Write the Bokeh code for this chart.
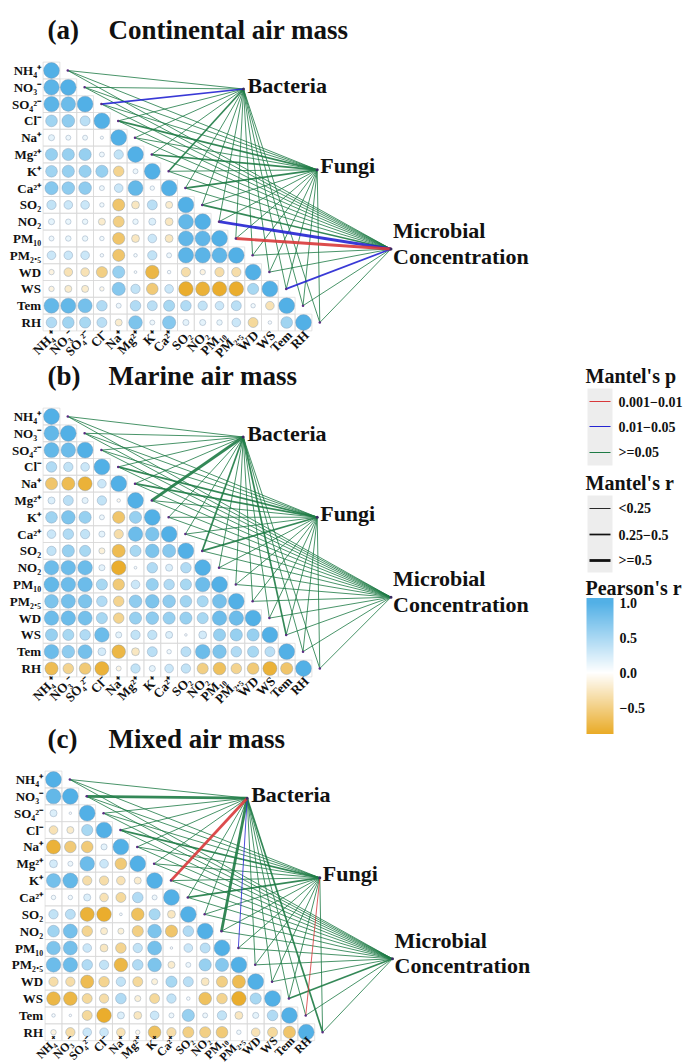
import numpy as np
from bokeh.plotting import figure
from bokeh.models import Range1d, ColumnDataSource
from bokeh.embed import file_html
from bokeh.resources import INLINE
from bokeh.core.properties import value

# ---------------- data ----------------
variables = ["NH₄⁺", "NO₃⁻", "SO₄²⁻", "Cl⁻", "Na⁺", "Mg²⁺", "K⁺", "Ca²⁺",
             "SO₂", "NO₂", "PM₁₀", "PM₂.₅", "WD", "WS", "Tem", "RH"]
targets = ["Bacteria", "Fungi", "Microbial Concentration"]
panel_letters = ["(a)", "(b)", "(c)"]
panel_titles = ["Continental air mass", "Marine air mass", "Mixed air mass"]

# lower-triangle Pearson's r (row i, columns 0..i-1); diagonal = 1
corr_a = [
    [],
    [0.95],
    [0.95, 0.85],
    [0.55, 0.65, 0.40],
    [0.15, 0.10, 0.10, 0.04],
    [0.60, 0.60, 0.60, 0.10, 0.35],
    [0.55, 0.60, 0.60, 0.60, -0.45, 0.10],
    [0.70, 0.65, 0.65, 0.10, 0.30, 0.90, 0.08],
    [0.35, 0.30, 0.30, 0.08, -0.60, -0.25, 0.40, -0.20],
    [0.15, 0.12, 0.12, -0.20, -0.50, 0.12, 0.20, -0.25, 0.90],
    [0.10, 0.12, 0.12, 0.08, -0.60, -0.25, 0.30, -0.25, 0.92, 0.92],
    [0.30, 0.30, 0.30, 0.05, -0.60, 0.05, 0.35, 0.10, 0.95, 0.95, 0.92],
    [-0.12, -0.30, -0.30, -0.50, 0.60, 0.03, -0.75, 0.05, -0.35, -0.12, -0.35, -0.35],
    [-0.12, -0.20, -0.20, -0.08, 0.70, 0.35, -0.55, 0.30, -0.85, -0.80, -0.85, -0.85, 0.50],
    [0.90, 0.90, 0.80, 0.45, 0.10, 0.45, 0.40, 0.50, 0.45, 0.35, 0.30, 0.40, 0.08, -0.30],
    [0.45, 0.55, 0.50, 0.40, -0.20, 0.75, 0.10, 0.70, 0.15, 0.15, 0.12, 0.30, -0.40, 0.05, 0.55],
]
corr_b = [
    [],
    [0.90],
    [0.90, 0.85],
    [0.45, 0.35, 0.30],
    [-0.60, -0.70, -0.80, 0.30],
    [0.20, 0.40, 0.15, 0.35, -0.05],
    [0.55, 0.75, 0.60, 0.10, -0.60, 0.60],
    [0.30, 0.45, 0.35, 0.15, -0.35, 0.85, 0.75],
    [0.35, 0.60, 0.50, -0.15, -0.70, 0.50, 0.75, 0.70],
    [0.85, 0.85, 0.85, 0.15, -0.85, 0.03, 0.45, 0.20, 0.45],
    [0.90, 0.85, 0.85, 0.50, -0.55, 0.30, 0.60, 0.45, 0.50, 0.85],
    [0.75, 0.80, 0.75, 0.45, -0.45, 0.65, 0.75, 0.65, 0.55, 0.50, 0.80],
    [0.85, 0.85, 0.80, 0.50, -0.45, 0.60, 0.65, 0.60, 0.60, 0.50, 0.85, 0.85],
    [0.60, 0.50, 0.45, 0.85, 0.15, 0.35, 0.35, 0.20, 0.02, 0.25, 0.60, 0.60, 0.60],
    [0.85, 0.65, 0.80, 0.25, -0.75, -0.25, 0.40, 0.08, 0.40, 0.85, 0.75, 0.45, 0.50, 0.40],
    [-0.70, -0.45, -0.55, -0.80, -0.10, 0.35, 0.15, 0.30, 0.35, -0.50, -0.65, -0.45, -0.55, -0.80, -0.60],
]
corr_c = [
    [],
    [0.90],
    [0.20, 0.02],
    [-0.30, -0.20, 0.50],
    [-0.80, -0.55, -0.55, 0.15],
    [0.25, 0.10, 0.85, 0.30, -0.55],
    [0.80, 0.90, -0.35, -0.35, -0.30, -0.20],
    [0.08, 0.08, 0.20, -0.30, -0.40, 0.45, 0.10],
    [0.35, 0.40, -0.80, -0.85, 0.03, -0.65, 0.50, -0.25],
    [0.55, 0.80, -0.45, -0.20, -0.15, -0.50, 0.75, -0.60, 0.45],
    [0.75, 0.80, 0.30, -0.25, -0.45, 0.35, 0.80, 0.02, 0.30, 0.40],
    [0.85, 0.85, 0.45, 0.35, -0.75, 0.45, 0.75, -0.20, 0.10, 0.60, 0.70],
    [-0.35, -0.35, -0.70, -0.45, 0.35, -0.40, -0.15, 0.50, 0.40, -0.25, -0.50, -0.70],
    [-0.75, -0.75, -0.40, -0.35, 0.45, -0.15, -0.40, 0.35, 0.05, -0.65, -0.45, -0.85, 0.50],
    [0.05, 0.02, -0.40, -0.85, 0.20, -0.25, 0.30, 0.10, 0.60, 0.10, 0.35, -0.25, 0.15, 0.45],
    [-0.12, -0.35, 0.30, 0.30, -0.30, -0.08, -0.65, -0.35, -0.50, -0.50, -0.55, 0.08, -0.30, -0.40, -0.60],
]

# Mantel classes per variable: p class 0 ">=0.05", 1 "0.01-0.05", 2 "0.001-0.01"
#                               r class 0 "<0.25", 1 "0.25-0.5", 2 ">=0.5"
mantel_p_a = {"Bacteria": [0, 0, 1, 0, 0, 0, 0, 0, 0, 0, 0, 0, 0, 0, 0, 0],
              "Fungi":    [0] * 16,
              "Microbial Concentration": [0, 0, 0, 0, 0, 0, 0, 0, 0, 1, 2, 0, 0, 1, 0, 0]}
mantel_r_a = {"Bacteria": [0, 0, 1, 0, 0, 0, 1, 0, 0, 0, 0, 0, 0, 0, 0, 0],
              "Fungi":    [0, 0, 0, 1, 0, 1, 0, 1, 0, 0, 0, 0, 0, 0, 0, 0],
              "Microbial Concentration": [0, 0, 0, 0, 0, 0, 0, 0, 1, 2, 2, 0, 0, 1, 0, 0]}
mantel_p_b = {"Bacteria": [0] * 16, "Fungi": [0] * 16, "Microbial Concentration": [0] * 16}
mantel_r_b = {"Bacteria": [0, 0, 0, 0, 0, 2, 0, 0, 1, 0, 0, 0, 0, 1, 0, 0],
              "Fungi":    [0, 0, 0, 1, 1, 0, 0, 0, 1, 0, 0, 0, 0, 0, 0, 0],
              "Microbial Concentration": [0] * 16}
mantel_p_c = {"Bacteria": [0, 0, 0, 0, 0, 0, 2, 0, 0, 0, 1, 0, 0, 0, 0, 0],
              "Fungi":    [0, 0, 0, 0, 0, 0, 0, 0, 0, 0, 0, 0, 0, 0, 2, 0],
              "Microbial Concentration": [0] * 16}
mantel_r_c = {"Bacteria": [0, 2, 0, 0, 0, 0, 2, 0, 0, 2, 0, 0, 0, 0, 0, 1],
              "Fungi":    [0, 0, 0, 1, 0, 0, 0, 1, 0, 0, 0, 0, 0, 0, 0, 0],
              "Microbial Concentration": [0, 0, 0, 0, 0, 0, 0, 0, 0, 0, 0, 0, 0, 1, 0, 0]}

p_labels = ["0.001−0.01", "0.01−0.05", ">=0.05"]
r_labels = ["<0.25", "0.25−0.5", ">=0.5"]
cbar_ticks = [1.0, 0.5, 0.0, -0.5]
cbar_tick_labels = ["1.0", "0.5", "0.0", "−0.5"]

# ---------------- styles / layout ----------------
FONT = value("Liberation Serif")
P_COLORS = ["#1E7B45", "#2424D2", "#D8383A"]   # by p class
R_WIDTHS = [0.9, 1.7, 2.8]                    # by r class
BLUE = (0x52, 0xB0, 0xE6)
ORANGE = (0xE6, 0x9F, 0x08)

panels = [
    dict(x0=51.0, y0=70.0, s=16.8, corr=corr_a, mp=mantel_p_a, mr=mantel_r_a,
         nodes=[(243.0, 88.5), (316.7, 169.3), (390.5, 248.5)], lab="13px", dy=2),
    dict(x0=51.0, y0=416.0, s=16.8, corr=corr_b, mp=mantel_p_b, mr=mantel_r_b,
         nodes=[(242.7, 436.5), (316.7, 516.7), (390.5, 596.7)], lab="13px", dy=2),
    dict(x0=53.0, y0=779.0, s=16.85, corr=corr_c, mp=mantel_p_c, mr=mantel_r_c,
         nodes=[(246.7, 797.7), (319.3, 877.3), (392.0, 958.3)], lab="12px", dy=-2),
]


def corr_color(r):
    end = BLUE if r >= 0 else ORANGE
    t = min(abs(r), 1.0)
    c = [round(255 + (e - 255) * t) for e in end]
    return "#%02x%02x%02x" % tuple(c)


def txt(x, y, text, size, align="left", angle=0.0):
    p.text(x=x, y=y, text=text, angle=angle, text_font=FONT, text_font_style="bold",
           text_font_size=size, text_align=align, text_baseline="middle",
           text_color="#111111")


W, H = 689, 1064
p = figure(width=W, height=H, x_range=Range1d(0, W), y_range=Range1d(H, 0),
           output_backend="svg", toolbar_location=None, x_axis_type=None, y_axis_type=None,
           min_border=0, outline_line_color=None)
p.xgrid.visible = False
p.ygrid.visible = False

n = len(variables)
for k, pan in enumerate(panels):
    x0, y0, s = pan["x0"], pan["y0"], pan["s"]
    # cells
    cl, cr, ct, cb = [], [], [], []
    cx, cy, crad, ccol = [], [], [], []
    for i in range(n):
        row = pan["corr"][i] + [1.0]
        for j in range(i + 1):
            xc, yc = x0 + j * s, y0 + i * s
            cl.append(xc - s / 2); cr.append(xc + s / 2)
            ct.append(yc - s / 2); cb.append(yc + s / 2)
            r = row[j]
            cx.append(xc); cy.append(yc)
            crad.append(0.47 * s * max(np.sqrt(abs(r)), 0.16))
            ccol.append(corr_color(r))
    p.quad(left=cl, right=cr, top=ct, bottom=cb, fill_color=None,
           line_color="#D8D8D8", line_width=0.7)
    p.circle(x=cx, y=cy, radius=crad, fill_color=ccol, line_color="#8097AE",
             line_width=0.5, line_alpha=0.8)

    # row labels
    txt([x0 - s / 2 - 2] * n, [y0 + i * s for i in range(n)], variables, "13px", "right")
    # column labels
    gb = y0 + (n - 1) * s + s / 2
    txt([x0 + j * s + 3 for j in range(n)], [gb + pan["dy"]] * n, variables, pan["lab"],
        "right", angle=np.pi / 4)

    # title
    txt([47], [y0 - 41], [panel_letters[k]], "27px")
    txt([108], [y0 - 41], [panel_titles[k]], "27px")

    # mantel links
    segs = []
    for t_idx, tname in enumerate(targets):
        nx, ny = pan["nodes"][t_idx]
        for i in range(n):
            pc = pan["mp"][tname][i]
            rc = pan["mr"][tname][i]
            segs.append((pc, rc, x0 + (i + 0.97) * s, y0 + i * s, nx, ny))
    segs.sort(key=lambda z: (z[0], z[1]))
    src = ColumnDataSource(dict(
        x0=[z[2] for z in segs], y0=[z[3] for z in segs],
        x1=[z[4] for z in segs], y1=[z[5] for z in segs],
        color=[P_COLORS[z[0]] for z in segs], width=[R_WIDTHS[z[1]] for z in segs]))
    p.segment(x0="x0", y0="y0", x1="x1", y1="y1", line_color="color",
              line_width="width", line_alpha=0.9, source=src)
    # start dots and node dots
    p.scatter(x=[x0 + (i + 0.97) * s for i in range(n)], y=[y0 + i * s for i in range(n)],
              size=2.5, color="#5B2C83", line_width=0)
    p.scatter(x=[q[0] for q in pan["nodes"]], y=[q[1] for q in pan["nodes"]],
              size=3, color="#3B2C63", line_width=0)

    # node labels
    (bx, by), (fx, fy), (mx, my) = pan["nodes"]
    txt([bx + 4], [by - 3.5], [targets[0]], "22px")
    txt([fx + 3], [fy - 4], [targets[1]], "22px")
    words = targets[2].split(" ")
    txt([mx + 2, mx + 2], [my - 18.5, my + 7], words, "22px")

# ---------------- legend ----------------
LX = 585
# Mantel's p
txt([LX], [375], ["Mantel's p"], "20px")
p.quad(left=[587], right=[612], top=[388], bottom=[465], fill_color="#EDEDED", line_color=None)
py = [401, 426, 452]
pcols = [P_COLORS[2], P_COLORS[1], P_COLORS[0]]
p.segment(x0=[589] * 3, x1=[610] * 3, y0=py, y1=py, line_color=pcols, line_width=1.0)
txt([618] * 3, py, p_labels, "14px")
# Mantel's r
txt([LX], [482], ["Mantel's r"], "20px")
p.quad(left=[587], right=[612], top=[495], bottom=[572], fill_color="#EDEDED", line_color=None)
ry = [508, 534, 560]
p.segment(x0=[589] * 3, x1=[610] * 3, y0=ry, y1=ry, line_color="#111111", line_width=R_WIDTHS)
txt([618] * 3, ry, r_labels, "14px")
# Pearson's r colour bar
txt([LX], [587], ["Pearson's r"], "20px")
cb_top, cb_bot, cb_hi, cb_lo = 598.0, 733.0, 1.06, -0.87
vals = np.linspace(cb_hi, cb_lo, 136)
dv = (cb_hi - cb_lo) / (len(vals) - 1)
to_y = lambda v: cb_top + (cb_hi - v) / (cb_hi - cb_lo) * (cb_bot - cb_top)
p.quad(left=[586] * len(vals), right=[613] * len(vals),
       top=[to_y(v + dv / 2) for v in vals], bottom=[to_y(v - dv / 2) for v in vals],
       fill_color=[corr_color(v) for v in vals], line_color=None)
txt([619] * len(cbar_ticks), [to_y(v) for v in cbar_ticks], cbar_tick_labels, "14px")

open("out.html", "w").write(file_html(p, INLINE))
